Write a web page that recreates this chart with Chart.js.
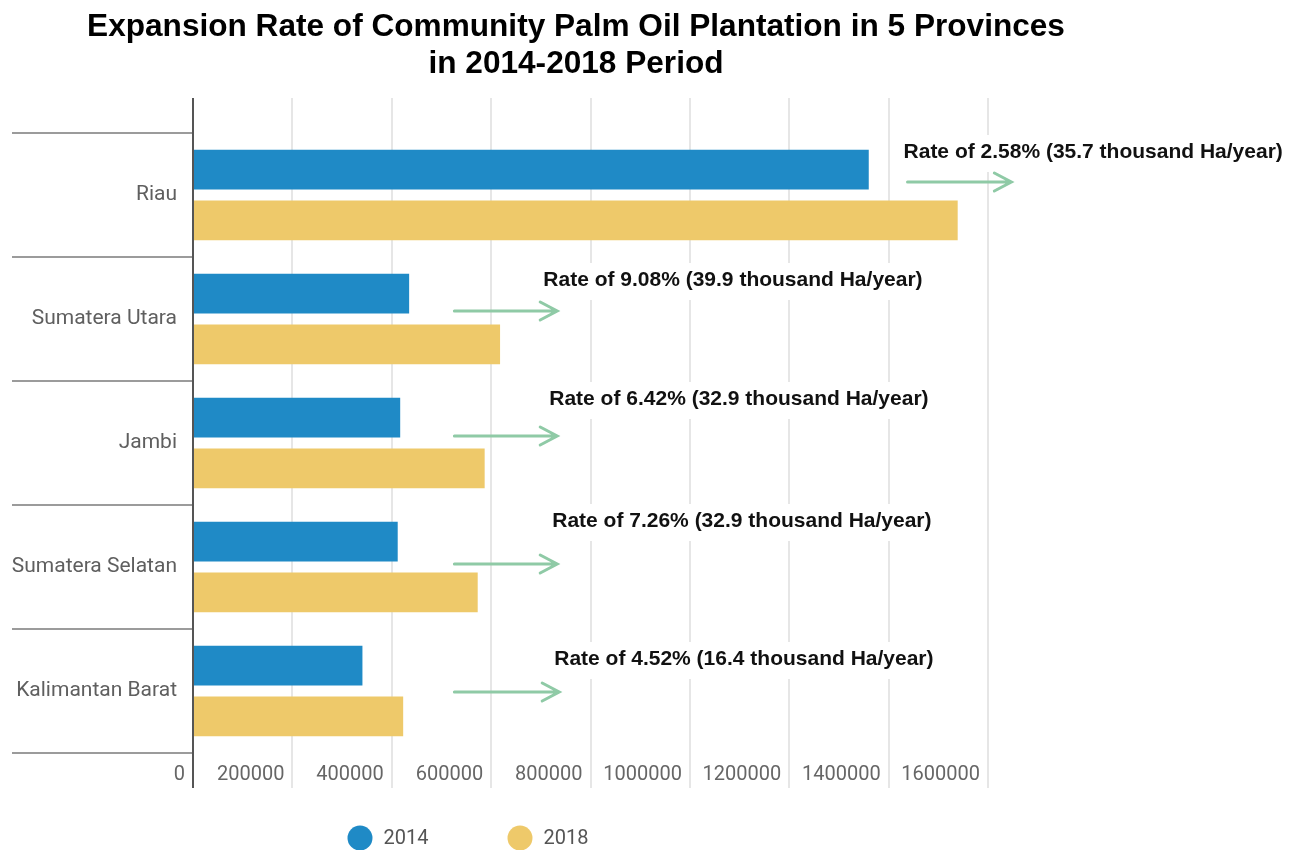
<!DOCTYPE html>
<html>
<head>
<meta charset="utf-8">
<title>Expansion Rate of Community Palm Oil Plantation</title>
<script src="https://cdn.jsdelivr.net/npm/chart.js@4.4.1/dist/chart.umd.min.js"></script>
<style>
  html, body { margin: 0; padding: 0; background: #ffffff; }
  #wrap { position: relative; width: 1300px; height: 850px; }
</style>
</head>
<body>
<div id="wrap"><canvas id="chart"></canvas></div>
<script>
// plantation area (Ha) per province
const provinces = ['Riau', 'Sumatera Utara', 'Jambi', 'Sumatera Selatan', 'Kalimantan Barat'];
const years = ['2014', '2018'];
const area2014 = [1360000, 435000, 417000, 412000, 341000];
const area2018 = [1539000, 618000, 587000, 573000, 423000];
const rateLabels = [
  'Rate of 2.58% (35.7 thousand Ha/year)',
  'Rate of 9.08% (39.9 thousand Ha/year)',
  'Rate of 6.42% (32.9 thousand Ha/year)',
  'Rate of 7.26% (32.9 thousand Ha/year)',
  'Rate of 4.52% (16.4 thousand Ha/year)'
];
const titleLines = [
  'Expansion Rate of Community Palm Oil Plantation in 5 Provinces',
  'in 2014-2018 Period'
];
const axisMax = 1600000;
const axisStep = 200000;

// where each rate note sits: x in axis units, dy in px from the category centre
const notePlacement = [
  { textAt: 1430000, textDy: -43, arrowFrom: 1438000, arrowTo: 1647000, arrowDy: -13 },
  { textAt: 705000, textDy: -39, arrowFrom: 526000, arrowTo: 733000, arrowDy: -8 },
  { textAt: 717000, textDy: -44, arrowFrom: 526000, arrowTo: 733000, arrowDy: -7 },
  { textAt: 723000, textDy: -46, arrowFrom: 526000, arrowTo: 733000, arrowDy: -3 },
  { textAt: 727000, textDy: -32, arrowFrom: 526000, arrowTo: 737000, arrowDy: 1 }
];

Chart.defaults.font.family = 'Roboto, "Noto Sans", sans-serif';

const gridColor = (ctx) => (ctx.tick && ctx.tick.value === 0 ? '#555555' : '#e6e6e6');

const twoLineTitle = {
  id: 'twoLineTitle',
  afterDraw(chart, args, opts) {
    const ctx = chart.ctx;
    ctx.save();
    ctx.font = 'bold 31.6px "Liberation Sans", Arial, sans-serif';
    ctx.fillStyle = '#000000';
    ctx.textAlign = 'center';
    ctx.textBaseline = 'middle';
    opts.lines.forEach((line, i) => ctx.fillText(line, opts.x, opts.y + i * opts.lineHeight));
    ctx.restore();
  }
};

const rateNotes = {
  id: 'rateNotes',
  afterDatasetsDraw(chart) {
    const { ctx, scales: { x, y } } = chart;
    ctx.save();
    ctx.font = 'bold 21px "Liberation Sans", Arial, sans-serif';
    ctx.textBaseline = 'middle';
    rateLabels.forEach((txt, i) => {
      const p = notePlacement[i];
      const cy = y.getPixelForValue(i);
      const tx = x.getPixelForValue(p.textAt);
      const ty = cy + p.textDy;
      const w = ctx.measureText(txt).width;
      ctx.fillStyle = '#ffffff';
      ctx.fillRect(tx - 4, ty - 17, w + 8, 37);
      ctx.fillStyle = '#111111';
      ctx.fillText(txt, tx, ty);

      // arrow
      const ay = cy + p.arrowDy;
      const x0 = x.getPixelForValue(p.arrowFrom);
      const x1 = x.getPixelForValue(p.arrowTo);
      ctx.strokeStyle = '#8fcaa6';
      ctx.lineWidth = 3;
      ctx.lineCap = 'round';
      ctx.beginPath();
      ctx.moveTo(x0, ay);
      ctx.lineTo(x1, ay);
      ctx.moveTo(x1 - 17, ay - 9);
      ctx.lineTo(x1, ay);
      ctx.lineTo(x1 - 17, ay + 9);
      ctx.stroke();
    });
    ctx.restore();
  }
};

const dotLegend = {
  id: 'dotLegend',
  afterDraw(chart, args, opts) {
    const ctx = chart.ctx;
    ctx.save();
    ctx.font = '20px Roboto, sans-serif';
    ctx.textBaseline = 'middle';
    chart.data.datasets.forEach((ds, i) => {
      const cx = opts.x + i * opts.spacing;
      ctx.fillStyle = ds.backgroundColor;
      ctx.beginPath();
      ctx.arc(cx, opts.y, opts.radius, 0, Math.PI * 2);
      ctx.fill();
      ctx.fillStyle = '#555555';
      ctx.fillText(ds.label, cx + opts.radius + 11, opts.y + 1);
    });
    ctx.restore();
  }
};

new Chart(document.getElementById('chart'), {
  type: 'bar',
  data: {
    labels: provinces,
    datasets: [
      { label: years[0], data: area2014, backgroundColor: '#1f8ac6' },
      { label: years[1], data: area2018, backgroundColor: '#eec96a' }
    ]
  },
  options: {
    indexAxis: 'y',
    responsive: true,
    maintainAspectRatio: false,
    animation: false,
    devicePixelRatio: 1,
    categoryPercentage: 0.82,
    barPercentage: 0.78,
    layout: { padding: { top: 98, left: 12, right: 312, bottom: 37 } },
    scales: {
      x: {
        type: 'linear',
        min: 0,
        max: axisMax,
        border: { display: false },
        grid: { color: gridColor, lineWidth: 2, tickLength: 35 },
        ticks: {
          stepSize: axisStep,
          align: 'end',
          labelOffset: -8,
          padding: -25,
          maxRotation: 0,
          autoSkip: false,
          color: '#666666',
          font: { size: 20 },
          callback: (value) => value.toString()
        },
        afterFit(scale) { scale.height = 60; }
      },
      x2: {
        type: 'linear',
        position: 'top',
        min: 0,
        max: axisMax,
        border: { display: false },
        grid: { color: gridColor, lineWidth: 2, tickLength: 35, drawOnChartArea: false },
        ticks: { display: false, stepSize: axisStep },
        afterFit(scale) { scale.height = 35; }
      },
      y: {
        border: { color: '#555555', width: 2 },
        grid: { offset: true, drawOnChartArea: false, tickLength: 181, color: '#9b9b9b', lineWidth: 2 },
        ticks: { color: '#5f5f5f', font: { size: 21 }, padding: -165 },
        afterFit(scale) { scale.width = 181; }
      }
    },
    plugins: {
      legend: { display: false },
      tooltip: { enabled: false },
      twoLineTitle: { lines: titleLines, x: 576, y: 27, lineHeight: 37 },
      dotLegend: { x: 360, y: 838, spacing: 160, radius: 12.5 }
    }
  },
  plugins: [twoLineTitle, rateNotes, dotLegend]
});
</script>
</body>
</html>
